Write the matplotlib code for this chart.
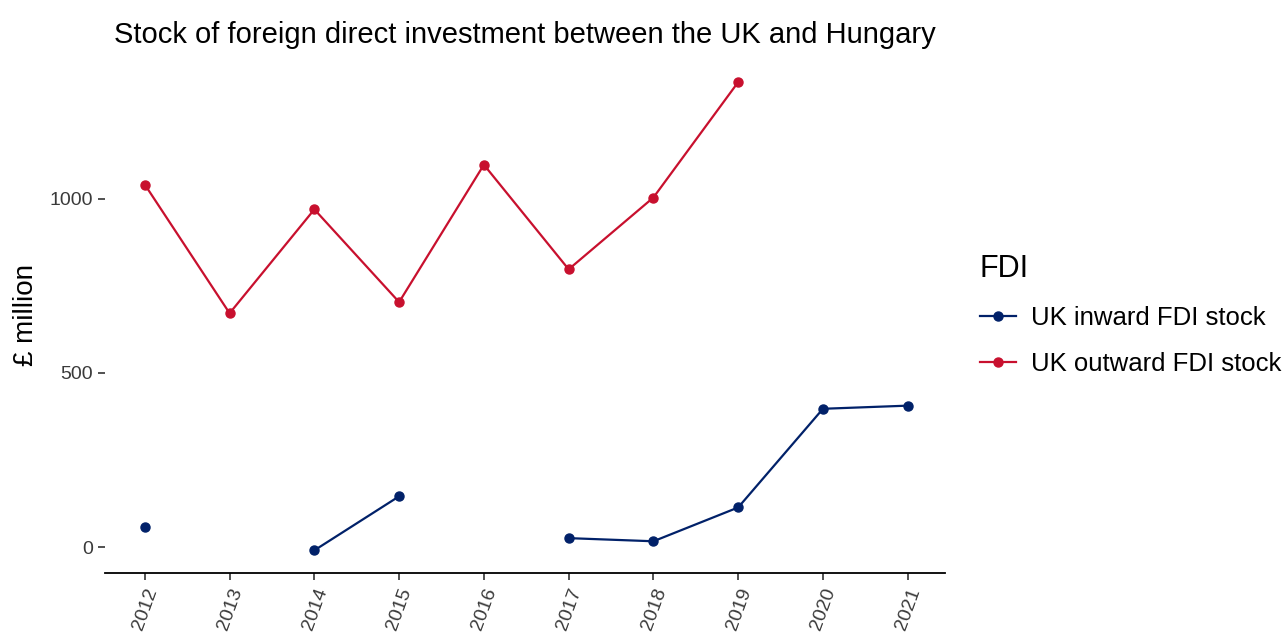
import matplotlib
matplotlib.use('Agg')
import matplotlib.pyplot as plt
import numpy as np

plt.rcParams['font.family'] = ['Liberation Sans', 'DejaVu Sans']

years = [2012, 2013, 2014, 2015, 2016, 2017, 2018, 2019, 2020, 2021]
inward = [57, np.nan, -9, 146, np.nan, 26, 17, 114, 397, 406]
outward = [1040, 671, 969, 703, 1097, 797, 1003, 1334, np.nan, np.nan]

blue = '#012169'
red = '#C8102E'

fig = plt.figure(figsize=(12.85, 6.33), dpi=100)
ax = fig.add_axes([105/1285, 60/633, 840/1285, 516/633])

ax.plot(years, inward, color=blue, marker='o', markersize=6.5, lw=1.6, label='UK inward FDI stock')
ax.plot(years, outward, color=red, marker='o', markersize=6.5, lw=1.6, label='UK outward FDI stock')

ax.set_xlim(2012 - 0.47, 2021 + 0.44)
ax.set_ylim(-74, 1406)
ax.set_xticks(years)
ax.set_xticklabels([str(y) for y in years], rotation=70, ha='right', va='top',
                   rotation_mode='anchor')
ax.set_yticks([0, 500, 1000])

for s in ['top', 'right', 'left']:
    ax.spines[s].set_visible(False)
ax.spines['bottom'].set_linewidth(1.3)
ax.tick_params(axis='both', labelsize=14, color='#333333', length=5, width=1.2,
               labelcolor='#3a3a3a')
ax.tick_params(axis='x', pad=4)
ax.set_ylabel('£ million', fontsize=20, labelpad=8)
ax.set_title('Stock of foreign direct investment between the UK and Hungary', fontsize=21, pad=10)

leg = ax.legend(title='FDI', loc='center left', bbox_to_anchor=(1.02, 0.5), frameon=False,
                fontsize=18.5, title_fontsize=22, handlelength=1.4, handletextpad=0.6,
                labelspacing=0.85, borderaxespad=0.3)
leg._legend_box.align = 'left'

fig.savefig('out.png', dpi=100)
